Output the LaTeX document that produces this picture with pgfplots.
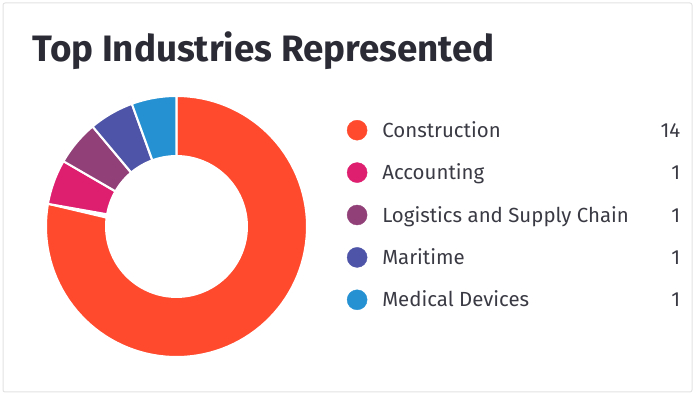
\documentclass[border=0pt]{standalone}
\usepackage{pgfplots}
\usepackage{pgfplotstable}
\pgfplotsset{compat=1.18}
\usepackage{fontspec}
\setmainfont{Fira Sans}
\definecolor{cCon}{HTML}{FF4A2D}
\definecolor{cAcc}{HTML}{DE1E6F}
\definecolor{cLog}{HTML}{924178}
\definecolor{cMar}{HTML}{4E55A8}
\definecolor{cMed}{HTML}{2591D2}
\definecolor{titlec}{HTML}{2B2B36}
\definecolor{textc}{HTML}{3A3A44}
\definecolor{framec}{HTML}{E2E2E2}

\pgfplotstableread[col sep=comma]{
name,value
Construction,14
Accounting,1
Logistics and Supply Chain,1
Maritime,1
Medical Devices,1
}\industries
\def\rin{0.54}
\newcommand\legtext[2]{\makebox[298bp][l]{\rule[-5bp]{0pt}{22bp}#1\hfill #2}}

\begin{document}
\begin{tikzpicture}
\pgfplotstablegetelem{0}{value}\of\industries \let\vA\pgfplotsretval
\pgfplotstablegetelem{1}{value}\of\industries \let\vB\pgfplotsretval
\pgfplotstablegetelem{2}{value}\of\industries \let\vC\pgfplotsretval
\pgfplotstablegetelem{3}{value}\of\industries \let\vD\pgfplotsretval
\pgfplotstablegetelem{4}{value}\of\industries \let\vE\pgfplotsretval
\pgfmathsetmacro\tot{\vA+\vB+\vC+\vD+\vE}
\pgfmathsetmacro\aA{90}
\pgfmathsetmacro\aB{\aA-360*\vA/\tot}
\pgfmathsetmacro\aC{\aB-360*\vB/\tot}
\pgfmathsetmacro\aD{\aC-360*\vC/\tot}
\pgfmathsetmacro\aE{\aD-360*\vD/\tot}
\pgfmathsetmacro\aF{\aE-360*\vE/\tot}
\draw[framec, line width=1bp, rounded corners=2bp] (3bp,3bp) rectangle (692bp,392bp);
\node[anchor=base west, inner sep=0pt, text=titlec, font=\fontsize{36.9}{40}\selectfont\bfseries] at (32bp,333bp) {Top Industries Represented};
\begin{axis}[
  at={(176.5bp,168.5bp)}, anchor=center,
  x=130.5bp, y=130.5bp,
  xmin=-1, xmax=1, ymin=-1, ymax=1,
  hide axis, clip=false,
  legend style={draw=none, fill=none, inner sep=0pt, outer sep=0pt,
    at={(1.153,0.908)}, anchor=north west,
    row sep=22bp,
    nodes={inner sep=0pt, text=textc},
    cells={anchor=base west},
    font=\fontsize{20.5}{22}\selectfont,
    /tikz/every odd column/.append style={column sep=15bp}},
]
\newcommand\slice[3]{%
\addplot[fill=#1, draw=white, line width=2bp, domain=0:2, samples=201, variable=\t, forget plot]
  ({(\t<=1 ? 1 : \rin)*cos(\t<=1 ? #2+(#3-#2)*\t : #3+(#2-#3)*(\t-1))},
   {(\t<=1 ? 1 : \rin)*sin(\t<=1 ? #2+(#3-#2)*\t : #3+(#2-#3)*(\t-1))}) -- cycle;}
\slice{cCon}{\aA}{\aB}
\slice{cAcc}{\aB}{\aC}
\slice{cLog}{\aC}{\aD}
\slice{cMar}{\aD}{\aE}
\slice{cMed}{\aE}{\aF}
\addlegendimage{legend image code/.code={\fill[cCon] (10bp,7bp) circle (10bp);}}
\addlegendentry{\legtext{Construction}{14}}
\addlegendimage{legend image code/.code={\fill[cAcc] (10bp,7bp) circle (10bp);}}
\addlegendentry{\legtext{Accounting}{1}}
\addlegendimage{legend image code/.code={\fill[cLog] (10bp,7bp) circle (10bp);}}
\addlegendentry{\legtext{Logistics and Supply Chain}{1}}
\addlegendimage{legend image code/.code={\fill[cMar] (10bp,7bp) circle (10bp);}}
\addlegendentry{\legtext{Maritime}{1}}
\addlegendimage{legend image code/.code={\fill[cMed] (10bp,7bp) circle (10bp);}}
\addlegendentry{\legtext{Medical Devices}{1}}
\end{axis}
\pgfresetboundingbox
\path[use as bounding box] (0bp,0bp) rectangle (695bp,395bp);
\end{tikzpicture}
\end{document}
